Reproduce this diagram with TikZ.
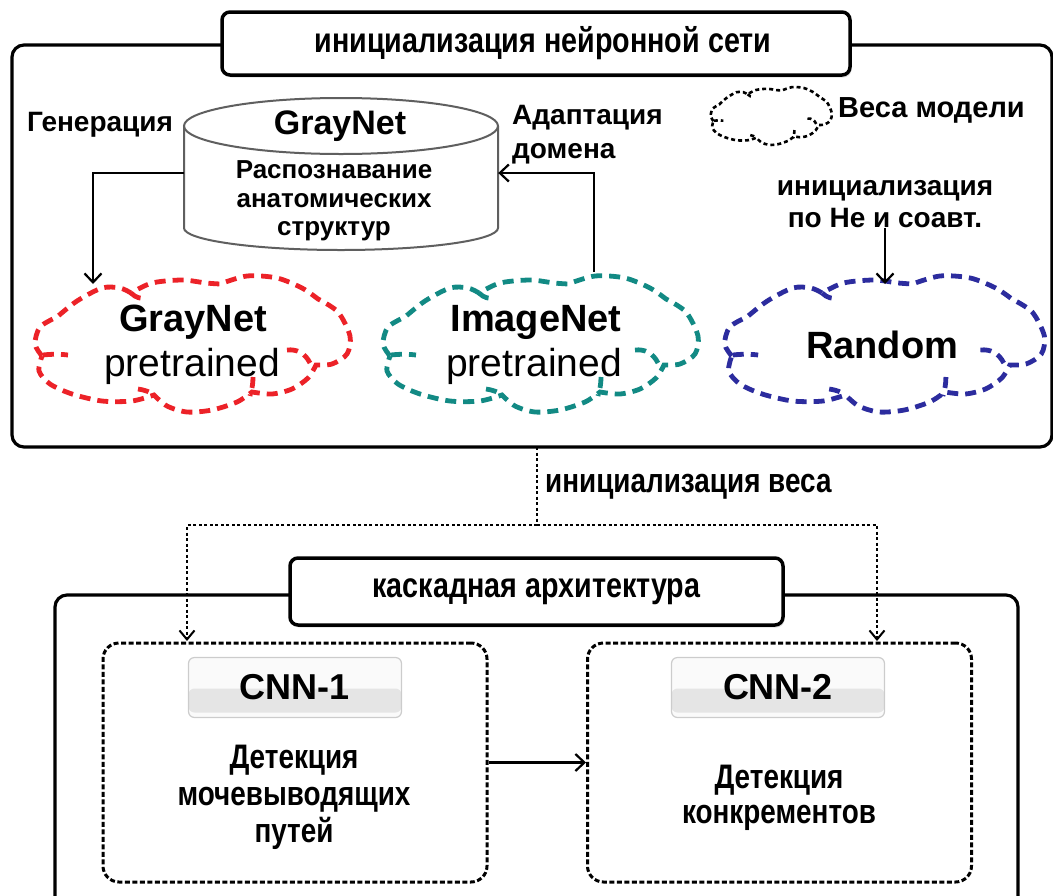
\documentclass[tikz,border=0pt]{standalone}
\usepackage{fontspec}
\setmainfont{Liberation Sans}
\newfontfamily\cond[FakeStretch=0.82]{Liberation Sans}
\usetikzlibrary{arrows.meta,calc,shadows}
\definecolor{cred}{RGB}{236,34,40}
\definecolor{cteal}{RGB}{18,138,132}
\definecolor{cblue}{RGB}{44,44,158}
\definecolor{cylgray}{RGB}{95,95,95}
\tikzset{
  frame/.style={line width=3.2pt,rounded corners=12pt},
  titlebox/.style={draw,line width=3.5pt,fill=white,rounded corners=8pt,inner sep=0pt,
     drop shadow={opacity=0.25,shadow xshift=1.5pt,shadow yshift=-2.5pt},
     font=\cond\bfseries\fontsize{35}{40}\selectfont},
  ttl/.style={inner sep=0pt,font=\cond\bfseries\fontsize{34}{40}\selectfont},
  lbl/.style={inner sep=0pt,font=\bfseries\fontsize{28}{32}\selectfont},
  conn/.style={line width=2.4pt,-{Straight Barb[length=9pt,width=17pt,line width=2.2pt]}},
  dotline/.style={line width=2.2pt,dash pattern=on 3pt off 2.5pt},
  dotarrow/.style={dotline,-{Straight Barb[length=9pt,width=15pt,line width=2pt]}},
  cloudarea/.style={inner sep=0pt,minimum width=318pt,minimum height=134pt},
  bigcloud/.style={draw=#1,line width=4.8pt,dash pattern=on 11pt off 7pt},
  dbox/.style={draw,line width=3pt,dash pattern=on 5pt off 2.5pt,rounded corners=16pt,
     minimum width=384pt,minimum height=239pt,inner sep=0pt},
  cnnlabel/.style={draw=black!20,line width=1.2pt,rounded corners=6pt,fill=black!2,
     minimum width=213pt,minimum height=60pt,inner sep=0pt,
     path picture={\fill[black!10] ([yshift=-1pt]path picture bounding box.west) rectangle ([yshift=5pt]path picture bounding box.south east);},
     font=\bfseries\fontsize{36}{40}\selectfont},
  det/.style={inner sep=0pt,align=center,font=\cond\bfseries\fontsize{34}{37}\selectfont},
  cloudpic/.pic={
    \path[pic actions]
      plot[smooth] coordinates {(-150,12) (-157,0) (-152,-17) (-135,-27)}
      -- plot[smooth] coordinates {(-135,-27) (-115,-43) (-90,-56) (-72,-56) (-61,-51)}
      -- plot[smooth] coordinates {(-61,-51) (-40,-61) (-10,-64) (14,-61) (28,-60)}
      -- plot[smooth] coordinates {(28,-60) (55,-68) (85,-66) (110,-56) (126,-45)}
      -- plot[smooth] coordinates {(126,-45) (146,-32) (158,-8) (155,10) (140,20) (124,21)}
      -- plot[smooth] coordinates {(124,21) (116,34) (100,45) (80,50) (60,48)}
      -- plot[smooth] coordinates {(60,48) (45,58) (20,66) (-5,68) (-25,62) (-38,51)}
      -- plot[smooth] coordinates {(-38,51) (-60,57) (-90,57) (-120,50) (-142,40) (-153,27) (-150,12)};
    \path[pic actions] (-61,-51) .. controls (-56,-46) and (-51,-45) .. (-45,-46);
    \path[pic actions] (-149,11) .. controls (-140,10) and (-132,10) .. (-124,11);
    \path[pic actions] (-54,45) .. controls (-47,46) and (-42,48) .. (-38,51);
    \path[pic actions] (61,33) .. controls (61,40) and (60,45) .. (58,52);
    \path[pic actions] (95,6) .. controls (105,5) and (113,9) .. (118,19);
  },
}
\begin{document}
\begin{tikzpicture}[x=1pt,y=-1pt]
\useasboundingbox (0,0) rectangle (1053,895);
% ---------- top frame ----------
\draw[frame] (12,45) rectangle (1052,447);
\node[titlebox,minimum width=628pt,minimum height=63pt] (t1) at (536,43.5) {\hspace*{14pt}инициализация нейронной сети};

% cylinder
\draw[line width=2pt,draw=cylgray,fill=white] (184,126) -- (184,228) arc[start angle=180,end angle=0,x radius=157,y radius=22] -- (498,126);
\draw[line width=2pt,draw=cylgray,fill=white] (341,126) ellipse [x radius=157,y radius=28];
\node[inner sep=0pt,minimum width=314pt,minimum height=140pt] (cyl) at (341,173) {};
\node[inner sep=0pt,font=\bfseries\fontsize{34}{38}\selectfont] (cyltitle) at (340,126) {GrayNet};
\node[inner sep=0pt,align=center,font=\bfseries\fontsize{26}{28.5}\selectfont] (cyltext) at (334,201) {Распознавание\\анатомических\\структур};

\node[lbl] (gen) at (100,125) {Генерация};
\node[lbl,anchor=west,align=left,font=\bfseries\fontsize{28}{34}\selectfont] (adapt) at (512,135) {Адаптация\\домена};

% legend
\node[inner sep=0pt,minimum width=122pt,minimum height=57pt] (legend) at (771,116) {};
\pic[draw=black,line width=2.6pt,dash pattern=on 4pt off 3pt,xscale=0.384,yscale=0.425] at (legend.center) {cloudpic};
\node[lbl,anchor=west,font=\bfseries\fontsize{29}{33}\selectfont] (legtext) at (838,110) {Веса модели};

\node[lbl,align=center,font=\bfseries\fontsize{28}{32}\selectfont] (heinit) at (885,204) {инициализация\\по He и соавт.};

% clouds
\node[cloudarea] (red) at (192,344) {};
\pic[bigcloud=cred] at (red.center) {cloudpic};
\node[inner sep=0pt,font=\bfseries\fontsize{38}{42}\selectfont] (redt1) at (193,322) {GrayNet};
\node[inner sep=0pt,font=\fontsize{39}{42}\selectfont] (redt2) at (192,366) {pretrained};

\node[cloudarea] (teal) at (540,344) {};
\pic[bigcloud=cteal] at (teal.center) {cloudpic};
\node[inner sep=0pt,font=\bfseries\fontsize{38}{42}\selectfont] (tealt1) at (536,322) {ImageNet};
\node[inner sep=0pt,font=\fontsize{39}{42}\selectfont] (tealt2) at (534,366) {pretrained};

\node[cloudarea,minimum width=323pt] (blue) at (884,344) {};
\pic[bigcloud=cblue,xscale=1.015] at (blue.center) {cloudpic};
\node[inner sep=0pt,font=\bfseries\fontsize{38}{42}\selectfont] (bluet) at (882,345) {Random};

% connectors top
\coordinate (genend) at (93,284);
\draw[conn] (cyl.west) -| (genend);
\coordinate (adstart) at (594,272);
\draw[conn] (adstart) |- (cyl.east);
\coordinate (heend) at (885,284);
\draw[conn] (heinit.south) -- (heend);

% ---------- weight init ----------
\coordinate (wtop) at (537,447);
\coordinate (wsplit) at (537,525);
\coordinate (d1) at (187,641);
\coordinate (d2) at (877,641);
\draw[dotline] (wtop) -- (wsplit);
\draw[dotarrow] (wsplit) -| (d1);
\draw[dotarrow] (wsplit) -| (d2);
\node[ttl,anchor=west] (winit) at (545,487) {инициализация веса};

% ---------- bottom frame ----------
\draw[frame] (55,595) rectangle (1018,930);
\node[titlebox,minimum width=493pt,minimum height=67pt] (t2) at (536.5,591.5) {каскадная архитектура};

\node[dbox] (box1) at (295,762.5) {};
\node[dbox] (box2) at (779.5,762.5) {};
\node[cnnlabel] (c1) at (295,687.5) {CNN-1};
\node[cnnlabel] (c2) at (778,687.5) {CNN-2};
\node[det] (det1) at (294,797) {Детекция\\мочевыводящих\\путей};
\node[det,font=\cond\bfseries\fontsize{34}{35}\selectfont] (det2) at (779,797.5) {Детекция\\конкрементов};
\draw[conn] (box1.east) -- (box2.west);
\end{tikzpicture}
\end{document}
